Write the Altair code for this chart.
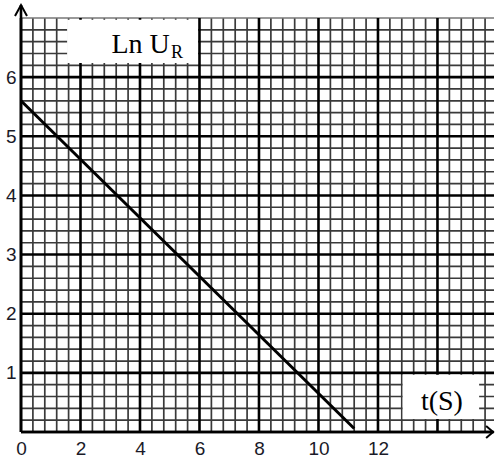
import altair as alt
import numpy as np
import pandas as pd

# ---- data ----
t_values = [0.0, 11.2]          # t (s)
ln_ur = [5.6, 0.06]             # Ln U_R
x_tick_values = [0, 2, 4, 6, 8, 10, 12]
y_tick_values = [1, 2, 3, 4, 5, 6]

x_max = 15.9
y_max = 7.0

xs = alt.Scale(domain=[0, x_max], nice=False, zero=False)
ys = alt.Scale(domain=[0, y_max], nice=False, zero=False)

xaxis = alt.Axis(values=x_tick_values, domain=False, ticks=False, grid=False,
                 labelFont="Liberation Sans", labelFontSize=19, labelFlush=False,
                 labelOverlap=False,
                 labelColor="#1a1a28", labelPadding=7, title=None)
yaxis = alt.Axis(values=y_tick_values, domain=False, ticks=False, grid=False,
                 labelFont="Liberation Sans", labelFontSize=19, labelFlush=False,
                 labelOverlap=False,
                 labelColor="#1a1a28", labelPadding=5, title=None,
                 labelBaseline="middle")

X = lambda f: alt.X(f, scale=xs, axis=xaxis)
Y = lambda f: alt.Y(f, scale=ys, axis=yaxis)

# ---- graph-paper grid ----
x_minor = [round(v, 2) for v in np.arange(0, 15.61, 0.4) if abs(v / 2 - round(v / 2)) > 1e-6]
x_major = [0, 2, 4, 6, 8, 10, 12, 14]
y_minor = [round(v, 2) for v in np.arange(0, 6.99, 0.2) if abs(v - round(v)) > 1e-6]
y_major = [0, 1, 2, 3, 4, 5, 6]

vmin = pd.DataFrame({"x": x_minor, "y": 0.0, "y2": y_max})
vmaj = pd.DataFrame({"x": x_major, "y": 0.0, "y2": y_max})
hmin = pd.DataFrame({"y": y_minor, "x": 0.0, "x2": x_max})
hmaj = pd.DataFrame({"y": y_major, "x": 0.0, "x2": x_max})
htop = pd.DataFrame({"y": [y_max], "x": [0.0], "x2": [x_max]})

minor_color = "#3a3a3a"
major_color = "#000000"


def vrules(df, color, width):
    return alt.Chart(df).mark_rule(color=color, strokeWidth=width).encode(
        x=X("x:Q"), y=Y("y:Q"), y2="y2:Q")


def hrules(df, color, width):
    return alt.Chart(df).mark_rule(color=color, strokeWidth=width).encode(
        y=Y("y:Q"), x=X("x:Q"), x2="x2:Q")


grid = [
    vrules(vmin, minor_color, 1.7),
    hrules(hmin, minor_color, 1.7),
    hrules(htop, "#777777", 1.7),
    vrules(vmaj, major_color, 2.6),
    hrules(hmaj, major_color, 2.6),
]

# ---- white label boxes ----
boxes = pd.DataFrame({
    "x": [1.55, 12.83],
    "x2": [5.95, 15.4],
    "y": [6.24, 0.22],
    "y2": [6.97, 0.97],
})
box_layer = alt.Chart(boxes).mark_rect(color="white").encode(
    x=X("x:Q"), x2="x2:Q", y=Y("y:Q"), y2="y2:Q")

# ---- the data line ----
line_df = pd.DataFrame({"t": t_values, "lnU": ln_ur})
line_layer = alt.Chart(line_df).mark_line(color="black", strokeWidth=3).encode(
    x=X("t:Q"), y=Y("lnU:Q"))

# ---- axis lines with arrow heads ----
y_axis_line = alt.Chart(pd.DataFrame({"x": [0.0], "y": [0.0], "y2": [7.22]})).mark_rule(
    color="black", strokeWidth=2.6).encode(x=X("x:Q"), y=Y("y:Q"), y2="y2:Q")
x_axis_line = alt.Chart(pd.DataFrame({"y": [0.0], "x": [0.0], "x2": [15.87]})).mark_rule(
    color="black", strokeWidth=2.6).encode(y=Y("y:Q"), x=X("x:Q"), x2="x2:Q")

y_arrow = alt.Chart(pd.DataFrame({"x": [0.0], "y": [7.22]})).mark_point(
    shape="M-1.2,2.2L0,0L1.2,2.2", filled=False, color="black", strokeWidth=2, size=100,
    opacity=1).encode(x=X("x:Q"), y=Y("y:Q"))
x_arrow = alt.Chart(pd.DataFrame({"x": [15.87], "y": [0.0]})).mark_point(
    shape="M-1.4,-1.2L0,0L-1.4,1.2", filled=False, color="black", strokeWidth=2, size=100,
    opacity=1).encode(x=X("x:Q"), y=Y("y:Q"))

# ---- text labels ----
txt_main = alt.Chart(pd.DataFrame({"x": [5.0], "y": [6.40], "t": ["Ln U"]})).mark_text(
    font="Liberation Serif", fontSize=28, align="right", baseline="alphabetic",
    color="black").encode(x=X("x:Q"), y=Y("y:Q"), text="t:N")
txt_sub = alt.Chart(pd.DataFrame({"x": [5.04], "y": [6.33], "t": ["R"]})).mark_text(
    font="Liberation Serif", fontSize=18, align="left", baseline="alphabetic",
    color="black").encode(x=X("x:Q"), y=Y("y:Q"), text="t:N")
txt_t = alt.Chart(pd.DataFrame({"x": [14.15], "y": [0.37], "t": ["t(S)"]})).mark_text(
    font="Liberation Serif", fontSize=28, align="center", baseline="alphabetic",
    color="black").encode(x=X("x:Q"), y=Y("y:Q"), text="t:N")

chart = alt.layer(
    *grid, box_layer, y_axis_line, x_axis_line, y_arrow, x_arrow,
    line_layer, txt_main, txt_sub, txt_t,
).properties(
    width=473, height=414,
    autosize=alt.AutoSizeParams(type="none"),
    padding={"left": 21, "top": 18, "right": 1, "bottom": 29},
    background="white",
).configure_view(strokeWidth=0)

chart.save("out.html", embed_options={"renderer": "svg", "actions": False})
